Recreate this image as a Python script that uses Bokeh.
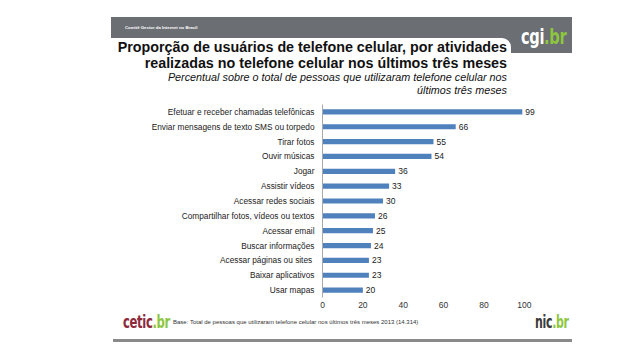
from bokeh.plotting import figure
from bokeh.models import ColumnDataSource, FactorRange, Range1d, FixedTicker, Div
from bokeh.layouts import column
from bokeh.core.properties import value
from bokeh.embed import file_html
from bokeh.resources import INLINE

# ---------------- data ----------------
categories = [
    "Efetuar e receber chamadas telefônicas",
    "Enviar mensagens de texto SMS ou torpedo",
    "Tirar fotos",
    "Ouvir músicas",
    "Jogar",
    "Assistir vídeos",
    "Acessar redes sociais",
    "Compartilhar fotos, vídeos ou textos",
    "Acessar email",
    "Buscar informações",
    "Acessar páginas ou sites ",
    "Baixar aplicativos",
    "Usar mapas",
]
values = [99, 66, 55, 54, 36, 33, 30, 26, 25, 24, 23, 23, 20]
x_ticks = [0, 20, 40, 60, 80, 100]

title_lines = [
    "Proporção de usuários de telefone celular, por atividades",
    "realizadas no telefone celular nos últimos três meses",
]
subtitle_lines = [
    "Percentual sobre o total de pessoas que utilizaram telefone celular nos",
    "últimos três meses",
]
header_note = "Comitê Gestor da Internet no Brasil"
base_note = "Base: Total de pessoas que utilizaram telefone celular nos últimos três meses 2013 (14.314)"

FONT = "Liberation Sans"
GRAY = "#6b6e72"
GREEN = "#8dc63f"
W = 622


def box(l, t, w, h, color, extra=""):
    return (f'<div style="position:absolute;left:{l}px;top:{t}px;width:{w}px;'
            f'height:{h}px;background:{color};{extra}"></div>')


def txt(x, y, s, size, color, weight="normal", style="normal", align="left"):
    if align == "right":
        pos = f"right:{W - x}px;"
    else:
        pos = f"left:{x}px;"
    return (f'<span style="position:absolute;{pos}top:{y}px;transform:translateY(-50%);'
            f'font-family:\'{FONT}\';font-size:{size}px;'
            f'font-weight:{weight};font-style:{style};color:{color};white-space:pre;'
            f'line-height:1;">{s}</span>')


def logo(x, y, main, main_color, size, sx):
    return (f'<span style="position:absolute;left:{x}px;top:{y}px;'
            f'transform:translateY(-50%) scaleX({sx});transform-origin:left center;'
            f'font-family:\'DejaVu Sans\';font-stretch:condensed;font-size:{size}px;'
            f'font-weight:bold;color:{main_color};white-space:pre;line-height:1;letter-spacing:-0.5px;">'
            f'{main}<span style="color:{GREEN};">.br</span></span>')


def wrap(h, parts):
    return (f'<div style="position:relative;width:{W}px;height:{h}px;margin:0;padding:0;'
            f'overflow:hidden;background:white;">' + "".join(parts) + "</div>")


# ---------------- header ----------------
header_parts = [
    box(111, 17, 461, 36, GRAY),
    box(100, 38, 411, 30, "white", "border-top-right-radius:9px;"),
    txt(125, 27.5, header_note, 4.3, "white", weight="bold"),
    logo(521, 37, "cgi", "white", 22, 0.74),
    txt(507, 46.5, title_lines[0], 14.3, "#111111", weight="bold", align="right"),
    txt(507, 62.5, title_lines[1], 14.3, "#111111", weight="bold", align="right"),
    txt(507, 77, subtitle_lines[0], 10.8, "#111111", style="italic", align="right"),
    txt(507, 89.5, subtitle_lines[1], 10.8, "#111111", style="italic", align="right"),
]
header = Div(text=wrap(98, header_parts), width=W, height=98, margin=0)

# ---------------- main chart ----------------
src = ColumnDataSource(dict(cat=categories, val=values, lab=[str(v) for v in values]))
p = figure(width=W, height=214, output_backend="svg", toolbar_location=None,
           y_range=FactorRange(factors=categories[::-1]), x_range=Range1d(0, 110),
           min_border_left=322, min_border_right=78, min_border_top=6, min_border_bottom=15)
p.hbar(y="cat", right="val", left=0, height=0.35, source=src,
       fill_color="#4f81bd", line_color=None)
p.text(x="val", y="cat", text="lab", source=src, x_offset=3, text_font=value(FONT),
       text_font_size="8.5px", text_color="#222222", text_baseline="middle")
p.grid.visible = False
p.outline_line_color = None
p.xaxis.ticker = FixedTicker(ticks=x_ticks)
p.xaxis.axis_line_color = None
p.xaxis.major_tick_out = 0
p.xaxis.major_tick_in = 0
p.xaxis.minor_tick_out = 0
p.xaxis.major_label_standoff = 4
p.xaxis.major_label_text_font = FONT
p.xaxis.major_label_text_font_size = "8.5px"
p.xaxis.major_label_text_color = "#333333"
p.yaxis.axis_line_color = "#a8a8a8"
p.yaxis.major_tick_out = 0
p.yaxis.major_tick_in = 0
p.yaxis.major_label_standoff = 8
p.yaxis.major_label_text_font = FONT
p.yaxis.major_label_text_font_size = "8.3px"
p.yaxis.major_label_text_color = "#222222"

# ---------------- footer ----------------
footer_parts = [
    logo(123, 10, "cetic", "#8c2a3c", 18, 0.72),
    txt(173, 10, base_note, 6.0, "#333333"),
    logo(535, 10, "nic", "#3a3a3a", 18, 0.68),
    box(113, 27, 459, 3, "#8a8a8a"),
]
footer = Div(text=wrap(31, footer_parts), width=W, height=31, margin=0)

layout = column(header, p, footer, spacing=0)
open("out.html", "w").write(file_html(layout, INLINE))
